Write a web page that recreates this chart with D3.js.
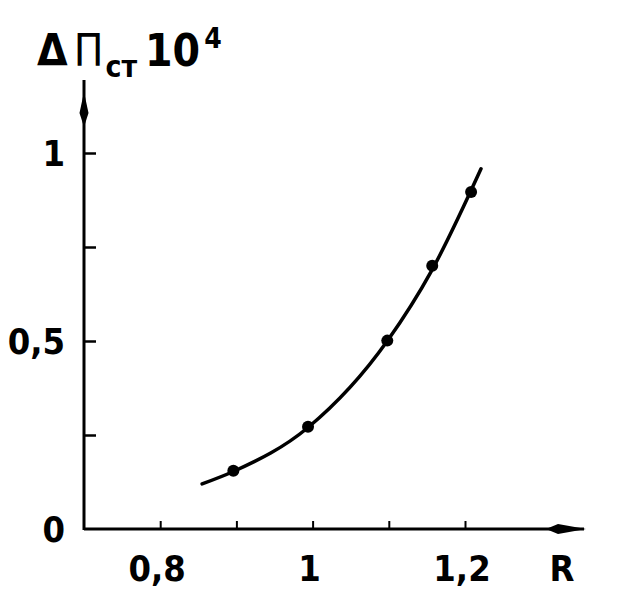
<!DOCTYPE html>
<html>
<head>
<meta charset="utf-8">
<script src="https://cdn.jsdelivr.net/npm/d3@7"></script>
<style>
  html, body { margin: 0; padding: 0; background: #fff; }
  svg { display: block; }
  text { font-family: "DejaVu Sans Condensed", "DejaVu Sans", sans-serif; font-weight: bold; fill: #000; }
</style>
</head>
<body>
<svg id="chart" width="632" height="613"></svg>
<script>
// ---- data ----
const pointR  = [0.896, 0.994, 1.098, 1.157, 1.208];
const pointDP = [0.155, 0.272, 0.501, 0.700, 0.896];

// smooth fitted curve, sampled along the drawn line
const curveR  = [0.855, 0.896, 0.994, 1.098, 1.157, 1.221];
const curveDP = [0.120, 0.153, 0.270, 0.500, 0.690, 0.958];

const xTicks = [0.8, 0.9, 1.0, 1.1, 1.2];
const xTickLabels = {0.8: "0,8", 1.0: "1", 1.2: "1,2"};
const yTicks = [0.25, 0.5, 0.75, 1.0];
const yTickLabels = ["0", "0,5", "1"];
const yLabelValues = [0, 0.5, 1];

const xTitle = "R";

// ---- drawing ----
const svg = d3.select("#chart");
const x = d3.scaleLinear().domain([0.7, 1.2]).range([84, 465]);
const y = d3.scaleLinear().domain([0, 1]).range([529, 153]);

const ink = "#000";

// axis lines
svg.append("line").attr("x1", x(0.7)).attr("x2", 584).attr("y1", y(0)).attr("y2", y(0))
  .attr("stroke", ink).attr("stroke-width", 3);
svg.append("line").attr("x1", x(0.7)).attr("x2", x(0.7)).attr("y1", y(0) + 1).attr("y2", 80)
  .attr("stroke", ink).attr("stroke-width", 3);

// arrowheads
svg.append("path")
  .attr("d", `M586,${y(0)} L558,${y(0) - 5} L546,${y(0)} L558,${y(0) + 5} Z`)
  .attr("fill", ink);
svg.append("path")
  .attr("d", `M${x(0.7)},92 L${x(0.7) - 4.5},113 L${x(0.7)},127 L${x(0.7) + 4.5},113 Z`)
  .attr("fill", ink);

// x axis ticks (pointing up) via d3 axis
const xAxis = d3.axisBottom(x).tickValues(xTicks).tickSizeInner(-8).tickSizeOuter(0)
  .tickPadding(0).tickFormat(() => "");
const gx = svg.append("g").attr("transform", `translate(0,${y(0)})`).call(xAxis);
gx.select(".domain").remove();
gx.selectAll(".tick line").attr("stroke", ink).attr("stroke-width", 2);

// y axis ticks (pointing right)
const yAxis = d3.axisLeft(y).tickValues(yTicks).tickSizeInner(-12).tickSizeOuter(0)
  .tickFormat(() => "");
const gy = svg.append("g").attr("transform", `translate(${x(0.7)},0)`).call(yAxis);
gy.select(".domain").remove();
gy.selectAll(".tick line").attr("stroke", ink).attr("stroke-width", 2.5);

// x labels
const labelSize = 36;
svg.selectAll("text.xl").data(xTicks.filter(d => xTickLabels[d] !== undefined)).enter()
  .append("text").attr("class", "xl")
  .attr("x", d => x(d) - 3).attr("y", 581)
  .attr("text-anchor", "middle")
  .attr("font-size", labelSize)
  .text(d => xTickLabels[d]);

svg.append("text").attr("x", 562).attr("y", 581).attr("text-anchor", "middle")
  .attr("font-size", labelSize).attr("font-weight", "normal").text(xTitle);

// y labels
svg.selectAll("text.yl").data(yLabelValues).enter()
  .append("text").attr("class", "yl")
  .attr("x", 65).attr("y", d => y(d) + 13)
  .attr("text-anchor", "end")
  .attr("font-size", labelSize)
  .text((d, i) => yTickLabels[i]);

// y title: ΔΠст 10^4
const t = svg.append("text").attr("x", 37).attr("y", 66).attr("font-size", 44);
t.append("tspan").text("Δ");
t.append("tspan").attr("dx", 6).attr("font-weight", "normal").text("Π");
t.append("tspan").attr("dx", 2).attr("dy", 11).attr("font-size", 30).text("ст");
t.append("tspan").attr("dx", 8).attr("dy", -11).text("10");
t.append("tspan").attr("dx", 4).attr("dy", -18).attr("font-size", 28).text("4");

// curve
const curveData = curveR.map((r, i) => [r, curveDP[i]]);
const line = d3.line().x(d => x(d[0])).y(d => y(d[1])).curve(d3.curveMonotoneX);
svg.append("path").datum(curveData).attr("d", line)
  .attr("fill", "none").attr("stroke", ink).attr("stroke-width", 3.5).attr("stroke-linecap", "round");

// points
svg.selectAll("circle.pt").data(pointR.map((r, i) => [r, pointDP[i]])).enter()
  .append("circle").attr("class", "pt")
  .attr("cx", d => x(d[0])).attr("cy", d => y(d[1])).attr("r", 6).attr("fill", ink);
</script>
</body>
</html>
